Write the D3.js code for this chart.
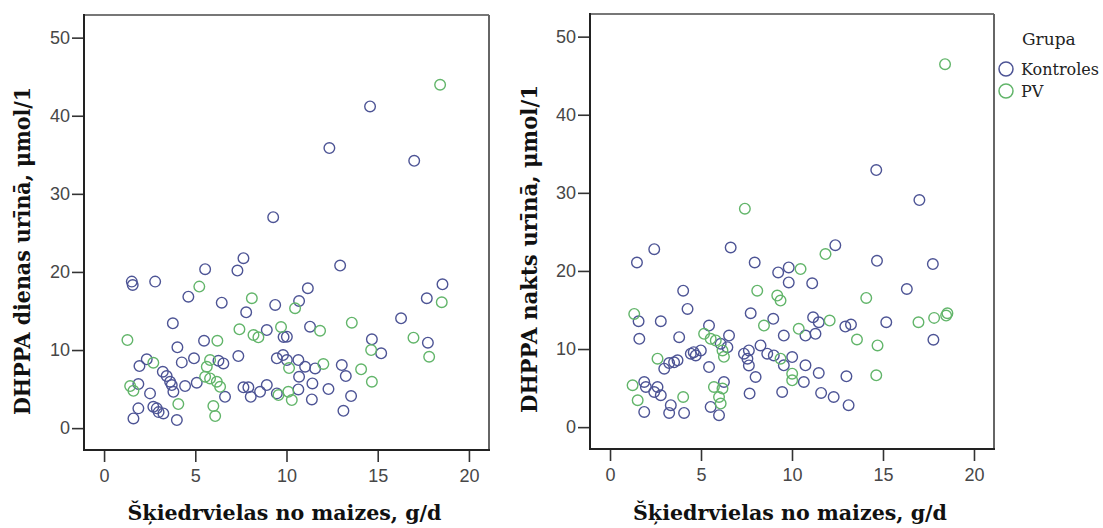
<!DOCTYPE html>
<html>
<head>
<meta charset="utf-8">
<script src="https://cdn.jsdelivr.net/npm/d3@7"></script>
<style>
  html, body { margin: 0; padding: 0; background: #fff; }
  svg { display: block; }
</style>
</head>
<body>
<svg id="chart" width="1103" height="528"></svg>
<script>
// Fibre from bread (g/d) vs DHPPA in day urine, by group: [x, y]
const dayKontroles = [
  [1.52,18.76],[1.57,18.33],[2.80,18.76],[5.54,20.35],[7.31,20.17],[7.64,21.76],
  [4.62,16.83],[6.45,16.06],[7.79,14.83],[9.38,15.77],[3.77,13.42],[5.48,11.19],
  [8.92,12.56],[4.02,10.35],[7.36,9.23],[4.93,8.94],[4.26,8.42],[1.94,7.95],
  [2.34,8.81],[3.22,7.22],[6.27,8.63],[6.54,8.29],[5.08,5.81],[4.44,5.38],
  [3.62,5.94],[3.71,5.51],[3.80,4.65],[3.43,6.67],[6.63,4.01],[7.64,5.22],
  [7.91,5.22],[8.04,4.01],[8.55,4.65],[8.92,5.51],[9.47,4.45],[1.88,5.64],
  [2.52,4.45],[1.88,2.53],[1.61,1.24],[2.70,2.73],[2.89,2.53],[3.25,1.88],
  [3.99,1.03],[2.99,2.05],[12.94,20.81],[11.17,17.91],[10.69,16.28],[11.29,12.99],
  [10.02,11.71],[9.84,11.67],[14.68,11.37],[15.19,9.58],[16.28,14.06],[17.69,16.63],
  [18.55,18.42],[17.75,10.94],[10.02,8.72],[10.65,8.72],[11.02,7.86],[11.57,7.65],
  [13.03,8.08],[13.25,6.67],[10.69,6.58],[11.42,5.73],[10.65,4.96],[12.30,5.00],
  [11.39,3.68],[13.54,4.10],[13.12,2.22],[14.58,41.19],[12.35,35.86],[17.00,34.23],
  [9.27,27.01],[9.81,9.36],[9.47,8.94]
];
const dayPV = [
  [5.22,18.12],[8.10,16.63],[1.28,11.28],[6.21,11.19],[7.42,12.65],[8.19,11.92],
  [8.46,11.63],[2.70,8.37],[5.81,8.72],[5.63,7.86],[5.54,6.58],[5.81,6.37],
  [6.18,5.94],[6.36,5.29],[5.99,2.82],[6.09,1.54],[1.43,5.38],[1.61,4.78],
  [4.07,3.08],[9.70,12.95],[10.14,7.69],[10.10,4.65],[10.29,3.59],[10.47,15.35],
  [11.84,12.47],[13.58,13.50],[14.64,10.00],[18.51,16.12],[16.96,11.58],[17.82,9.14],
  [12.02,8.21],[14.09,7.53],[14.68,5.94],[18.42,43.97],[9.56,4.23]
];

// Fibre from bread (g/d) vs DHPPA in night urine, by group: [x, y]
const nightKontroles = [
  [14.63,32.91],[17.00,29.08],[2.43,22.79],[6.63,23.00],[12.38,23.30],[1.48,21.08],
  [7.95,21.08],[14.67,21.30],[17.74,20.88],[16.31,17.69],[9.24,19.81],[9.82,20.45],
  [9.82,18.53],[4.02,17.47],[4.26,15.14],[7.73,14.58],[2.79,13.56],[8.97,13.87],
  [1.61,11.31],[3.80,11.52],[9.55,11.73],[5.44,13.01],[6.54,11.73],[6.08,10.68],
  [6.45,10.24],[2.98,7.49],[3.25,8.20],[3.71,8.55],[4.44,9.40],[4.99,9.82],
  [4.71,9.18],[5.44,7.69],[7.36,9.40],[7.55,8.76],[7.63,9.82],[8.27,10.46],
  [8.64,9.40],[9.00,9.18],[9.55,7.91],[10.01,8.97],[8.00,6.42],[7.67,4.30],
  [9.46,4.50],[1.88,5.78],[1.97,5.14],[2.61,5.14],[2.43,4.50],[2.79,4.08],
  [1.88,1.95],[3.34,2.81],[3.25,1.82],[4.07,1.82],[6.26,5.78],[5.53,2.59],
  [5.99,1.53],[11.11,18.41],[11.16,14.07],[11.47,13.43],[10.74,11.73],[11.29,11.95],
  [12.93,12.88],[13.24,13.14],[15.18,13.43],[17.77,11.19],[10.74,7.91],[11.47,6.93],
  [10.65,5.78],[12.99,6.51],[11.60,4.38],[12.29,3.86],[13.11,2.81],[1.57,13.56],
  [3.52,8.30],[4.60,9.60],[7.63,7.90]
];
const nightPV = [
  [18.41,46.47],[7.41,27.97],[11.84,22.16],[10.47,20.24],[8.09,17.47],[9.19,16.84],
  [9.37,16.20],[1.33,14.50],[8.46,13.01],[5.17,11.95],[5.53,11.31],[5.81,11.10],
  [6.18,9.82],[2.61,8.76],[9.37,8.76],[10.01,6.85],[10.01,5.99],[1.24,5.36],
  [1.52,3.44],[4.02,3.86],[5.71,5.14],[6.18,4.94],[5.99,3.86],[6.08,3.02],
  [14.08,16.54],[12.07,13.65],[10.37,12.59],[13.57,11.22],[14.70,10.46],[16.95,13.43],
  [17.81,13.99],[18.54,14.58],[18.47,14.29],[14.63,6.63],[6.26,9.00]
];

const xTicks = [0, 5, 10, 15, 20];
const yTicks = [0, 10, 20, 30, 40, 50];
const xTitle = "Šķiedrvielas no maizes, g/d";
const yTitles = ["DHPPA dienas urīnā, μmol/1", "DHPPA nakts urīnā, μmol/1"];
const groups = ["Kontroles", "PV"];
const legendTitle = "Grupa";

const colors = { Kontroles: "#4d5495", PV: "#62b56a" };

const svg = d3.select("#chart");

const panels = [
  { box: { l: 84, t: 15, r: 489, b: 450 }, series: [dayKontroles, dayPV], yTitle: yTitles[0], yTitleX: 30, yTitleY: 251 },
  { box: { l: 590, t: 14, r: 994, b: 449 }, series: [nightKontroles, nightPV], yTitle: yTitles[1], yTitleX: 537, yTitleY: 249 }
];

panels.forEach(p => {
  const f = p.box;
  const x = d3.scaleLinear().domain([-1.1, 21.1]).range([f.l, f.r]);
  const y = d3.scaleLinear().domain([-2.8, 52.9]).range([f.b, f.t]);
  const g = svg.append("g");

  // axes (ticks outside the frame)
  const ax = g.append("g")
    .attr("transform", `translate(0,${f.b})`)
    .call(d3.axisBottom(x).tickValues(xTicks).tickSize(12).tickSizeOuter(0).tickPadding(7));
  const ay = g.append("g")
    .attr("transform", `translate(${f.l},0)`)
    .call(d3.axisLeft(y).tickValues(yTicks).tickSize(12).tickSizeOuter(0).tickPadding(2));
  [ax, ay].forEach(a => {
    a.select(".domain").remove();
    a.selectAll(".tick line").attr("stroke", "#333").attr("stroke-width", 1.6);
    a.selectAll(".tick text")
      .attr("fill", "#474747")
      .style("font-family", "'Liberation Sans', Arial, sans-serif")
      .style("font-size", "18px");
  });

  // frame: dark left/bottom, grey top/right
  g.append("line").attr("x1", f.l).attr("x2", f.r).attr("y1", f.t).attr("y2", f.t)
    .attr("stroke", "#777").attr("stroke-width", 2);
  g.append("line").attr("x1", f.r).attr("x2", f.r).attr("y1", f.t).attr("y2", f.b)
    .attr("stroke", "#666").attr("stroke-width", 2);
  g.append("line").attr("x1", f.l).attr("x2", f.r + 1).attr("y1", f.b).attr("y2", f.b)
    .attr("stroke", "#222").attr("stroke-width", 2);
  g.append("line").attr("x1", f.l).attr("x2", f.l).attr("y1", f.t - 1).attr("y2", f.b + 1)
    .attr("stroke", "#222").attr("stroke-width", 2);

  // points
  p.series.forEach((data, i) => {
    g.append("g").selectAll("circle").data(data).join("circle")
      .attr("cx", d => x(d[0]))
      .attr("cy", d => y(d[1]))
      .attr("r", 5.3)
      .attr("fill", "none")
      .attr("stroke", colors[groups[i]])
      .attr("stroke-width", 1.4);
  });

  // axis titles
  g.append("text")
    .attr("x", (f.l + f.r) / 2 - 2)
    .attr("y", 520)
    .attr("text-anchor", "middle")
    .attr("textLength", 314)
    .attr("lengthAdjust", "spacingAndGlyphs")
    .style("font-family", "'DejaVu Serif', serif")
    .style("font-weight", "bold")
    .style("font-size", "21px")
    .attr("fill", "#111")
    .text(xTitle);

  g.append("text")
    .attr("transform", `translate(${p.yTitleX},${p.yTitleY}) rotate(-90)`)
    .attr("text-anchor", "middle")
    .attr("textLength", 328)
    .attr("lengthAdjust", "spacingAndGlyphs")
    .style("font-family", "'DejaVu Serif', serif")
    .style("font-weight", "bold")
    .style("font-size", "22px")
    .attr("fill", "#111")
    .text(p.yTitle);
});

// legend
const lg = svg.append("g").style("font-family", "'DejaVu Serif', serif").attr("fill", "#222");
lg.append("text").attr("x", 1022).attr("y", 45).style("font-size", "17px").text(legendTitle);
groups.forEach((name, i) => {
  const cy = 69 + i * 22;
  lg.append("circle").attr("cx", 1006).attr("cy", cy).attr("r", 7)
    .attr("fill", "none").attr("stroke", colors[name]).attr("stroke-width", 1.5);
  lg.append("text").attr("x", 1021).attr("y", cy + 6).style("font-size", "16px").text(name);
});
</script>
</body>
</html>
